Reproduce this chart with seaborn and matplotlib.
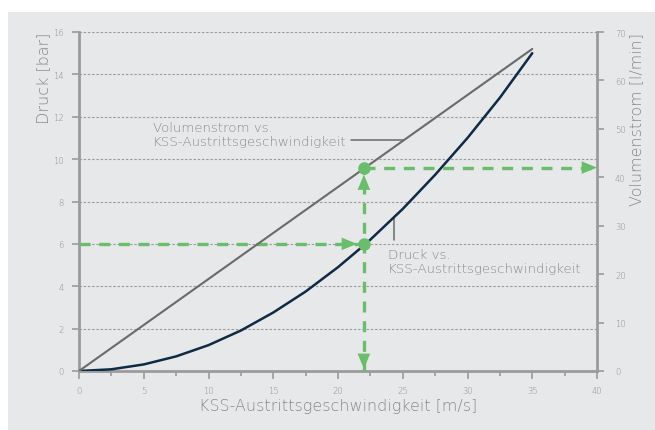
import numpy as np
import pandas as pd
import matplotlib
matplotlib.use("Agg")
import matplotlib.pyplot as plt
from matplotlib.patches import Rectangle
from matplotlib.ticker import MultipleLocator
import seaborn as sns

# ---- data ----
speed_druck = [0, 2.5, 5, 7.5, 10, 12.5, 15, 17.5, 20, 22, 22.5, 25, 27.5, 30, 32.5, 35]
druck = [0, 0.08, 0.31, 0.69, 1.22, 1.91, 2.76, 3.75, 4.9, 5.93, 6.2, 7.65, 9.26, 11.0, 12.9, 15.0]
speed_flow = [0, 35]
flow = [0, 66.5]
op_speed = 22
op_druck = 6
op_flow = 42
x_ticks = [0, 5, 10, 15, 20, 25, 30, 35, 40]
y_ticks_left = [0, 2, 4, 6, 8, 10, 12, 14, 16]
y_ticks_right = [0, 10, 20, 30, 40, 50, 60, 70]

sns.set_style("white")
plt.rcParams['font.family'] = ['DejaVu Sans']

NAVY = "#0f2a44"
GREY_LINE = "#6a6a6a"
GREEN = "#6abd6b"
BG = "#e7e8e9"
AXC = "#9b9b9b"
TXT = "#8a8a8a"
FW = "light"

fig = plt.figure(figsize=(6.55, 4.31), dpi=100)
fig.patch.set_facecolor("white")
fig.patches.append(Rectangle((8 / 655, 0), 1, 1 - 13 / 431, transform=fig.transFigure,
                             facecolor=BG, edgecolor="none", zorder=-10))

ax = fig.add_axes([79 / 655, 1 - 372 / 431, (597 - 79) / 655, (372 - 33) / 431])
ax.set_facecolor("none")
ax2 = ax.twinx()
ax2.set_facecolor("none")

df_d = pd.DataFrame({"v": speed_druck, "p": druck})
df_f = pd.DataFrame({"v": speed_flow, "q": flow})

ax.set_xlim(0, 40)
ax.set_ylim(0, 16)
ax2.set_ylim(0, 70)

# grid
for yv in y_ticks_left[1:]:
    ax.axhline(yv, color=AXC, lw=0.8, ls=(0, (2.2, 1.6)), zorder=1)

sns.lineplot(data=df_d, x="v", y="p", ax=ax, color=NAVY, lw=1.8, zorder=4)
sns.lineplot(data=df_f, x="v", y="q", ax=ax2, color=GREY_LINE, lw=1.5, zorder=3)
ax.set_xlabel("")
ax.set_ylabel("")
ax2.set_ylabel("")

# green guide lines
dash = (0, (3.3, 2.6))
gl = 2.4
ax.plot([0, op_speed], [op_druck, op_druck], color=GREEN, lw=gl, ls=dash, zorder=5,
        dash_capstyle="butt")
ax2.plot([op_speed, op_speed], [0, op_flow], color=GREEN, lw=gl, ls=dash, zorder=5,
         dash_capstyle="butt")
ax2.plot([op_speed, 40], [op_flow, op_flow], color=GREEN, lw=gl, ls=dash, zorder=5,
         dash_capstyle="butt")

# dots
ax.plot([op_speed], [op_druck], "o", color=GREEN, ms=8, zorder=7)
ax2.plot([op_speed], [op_flow], "o", color=GREEN, ms=8, zorder=7)

# arrowheads
ahead = dict(arrowstyle="-|>,head_length=1.1,head_width=0.45", color=GREEN, lw=0.01,
             shrinkA=0, shrinkB=0)
ax.annotate("", xy=(op_speed, op_druck), xytext=(-20, 0), textcoords="offset points",
            arrowprops=dict(ahead, shrinkB=5), zorder=6)
ax2.annotate("", xy=(op_speed, op_flow), xytext=(0, -20), textcoords="offset points",
             arrowprops=dict(ahead, shrinkB=5), zorder=6)
ax2.annotate("", xy=(40, op_flow), xytext=(-16, 0), textcoords="offset points",
             arrowprops=dict(ahead), zorder=6)
ax2.annotate("", xy=(op_speed, 0), xytext=(0, 16), textcoords="offset points",
             arrowprops=dict(ahead, shrinkB=1.5), zorder=6)

# annotations
ax.text(5.7, 11.2, "Volumenstrom vs.\nKSS-Austrittsgeschwindigkeit", fontsize=9.6,
        color=TXT, fontweight=FW, va="center", ha="left", linespacing=1.2)
ax2.plot([21.0, 25.1], [np.interp(25.1, speed_flow, flow)] * 2, color=GREY_LINE, lw=1.1, zorder=3)
ax.text(23.85, 5.2, "Druck vs.\nKSS-Austrittsgeschwindigkeit", fontsize=9.6,
        color=TXT, fontweight=FW, va="center", ha="left", linespacing=1.2)
ax.plot([24.3, 24.3], [6.2, np.interp(24.3, speed_druck, druck)], color=GREY_LINE, lw=1.1, zorder=3)

# spines & ticks
for a in (ax, ax2):
    for s in a.spines.values():
        s.set_visible(False)
ax.spines["left"].set_visible(True)
ax.spines["bottom"].set_visible(True)
ax2.spines["right"].set_visible(True)
for s in (ax.spines["left"], ax.spines["bottom"], ax2.spines["right"]):
    s.set_color(AXC)
    s.set_linewidth(2)

ax.set_xticks(x_ticks)
ax.xaxis.set_minor_locator(MultipleLocator(2.5))
ax.set_yticks(y_ticks_left)
ax2.set_yticks(y_ticks_right)
ax.tick_params(axis="x", which="major", length=6, width=1.2, color=AXC, labelsize=6,
               labelcolor=TXT, pad=5, direction="out", bottom=True)
ax.tick_params(axis="x", which="minor", length=3.5, width=1.2, color=AXC, bottom=True)
ax.tick_params(axis="y", length=5, width=1.2, color=AXC, labelsize=6, labelcolor=TXT,
               pad=6, left=True)
ax2.tick_params(axis="y", length=5, width=1.2, color=AXC, labelsize=6, labelcolor=TXT,
                pad=8, right=True)
for lab in ax.get_xticklabels() + ax.get_yticklabels() + ax2.get_yticklabels():
    lab.set_fontweight(FW)

# axis labels
ax.text(-0.0676, 1.0, "Druck [bar]", transform=ax.transAxes, rotation=90, ha="center",
        va="top", fontsize=11.5, color=TXT, fontweight=FW)
ax.text(1.077, 1.0, "Volumenstrom [l/min]", transform=ax.transAxes, rotation=90, ha="center",
        va="top", fontsize=11.5, color=TXT, fontweight=FW)
ax.text(0.5, -0.103, "KSS-Austrittsgeschwindigkeit [m/s]", transform=ax.transAxes,
        ha="center", va="center", fontsize=11.5, color=TXT, fontweight=FW)

fig.savefig("out.png", dpi=100, facecolor=fig.get_facecolor())
